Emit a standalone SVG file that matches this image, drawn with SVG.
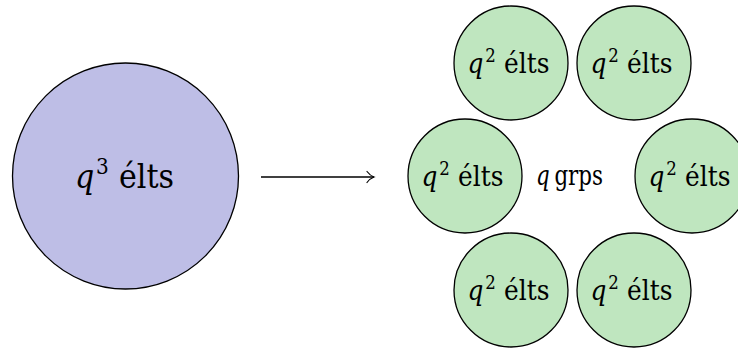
<svg xmlns="http://www.w3.org/2000/svg" width="738" height="351" viewBox="0 0 738 351">
<defs>
<style>
.big{fill:#bebee6;stroke:#000;stroke-width:1.3}
.small{fill:#bfe6bf;stroke:#000;stroke-width:1.3}
.t{font-family:'DejaVu Serif','Liberation Serif',serif;fill:#000}
.q{font-style:italic}
.lb{font-size:33px}
.ls{font-size:27px}
</style>
<marker id="arr" markerWidth="14" markerHeight="14" refX="10" refY="7" orient="auto" markerUnits="userSpaceOnUse">
<path d="M3,1.5 Q6,5.5 10,7 Q6,8.5 3,12.5" fill="none" stroke="#000" stroke-width="1.2" stroke-linecap="round"/>
</marker>
</defs>
<rect width="738" height="351" fill="#fff"/>
<g id="connectors">
<line x1="261" y1="177" x2="374" y2="177" stroke="#000" stroke-width="1.3" marker-end="url(#arr)"/>
</g>
<g id="big-node">
<circle class="big" cx="125.5" cy="176" r="113"/>
<text class="t lb" x="124.5" y="188" text-anchor="middle" textLength="99" lengthAdjust="spacingAndGlyphs"><tspan class="q">q</tspan><tspan font-size="22px" dy="-14" dx="2">3</tspan><tspan dy="14" dx="11">élts</tspan></text>
</g>
<g id="n1">
<circle class="small" cx="511" cy="63" r="57"/>
<text class="t ls" x="508.5" y="73" text-anchor="middle" textLength="82" lengthAdjust="spacingAndGlyphs"><tspan class="q">q</tspan><tspan font-size="18px" dy="-11" dx="2">2</tspan><tspan dy="11" dx="9">élts</tspan></text>
</g>
<g id="n2">
<circle class="small" cx="634" cy="63" r="57"/>
<text class="t ls" x="631.5" y="73" text-anchor="middle" textLength="82" lengthAdjust="spacingAndGlyphs"><tspan class="q">q</tspan><tspan font-size="18px" dy="-11" dx="2">2</tspan><tspan dy="11" dx="9">élts</tspan></text>
</g>
<g id="n3">
<circle class="small" cx="465" cy="176" r="57"/>
<text class="t ls" x="462.5" y="186" text-anchor="middle" textLength="82" lengthAdjust="spacingAndGlyphs"><tspan class="q">q</tspan><tspan font-size="18px" dy="-11" dx="2">2</tspan><tspan dy="11" dx="9">élts</tspan></text>
</g>
<g id="n4">
<circle class="small" cx="692" cy="176" r="57"/>
<text class="t ls" x="689.5" y="186" text-anchor="middle" textLength="82" lengthAdjust="spacingAndGlyphs"><tspan class="q">q</tspan><tspan font-size="18px" dy="-11" dx="2">2</tspan><tspan dy="11" dx="9">élts</tspan></text>
</g>
<g id="n5">
<circle class="small" cx="511" cy="290" r="57"/>
<text class="t ls" x="508.5" y="300" text-anchor="middle" textLength="82" lengthAdjust="spacingAndGlyphs"><tspan class="q">q</tspan><tspan font-size="18px" dy="-11" dx="2">2</tspan><tspan dy="11" dx="9">élts</tspan></text>
</g>
<g id="n6">
<circle class="small" cx="634" cy="290" r="57"/>
<text class="t ls" x="631.5" y="300" text-anchor="middle" textLength="82" lengthAdjust="spacingAndGlyphs"><tspan class="q">q</tspan><tspan font-size="18px" dy="-11" dx="2">2</tspan><tspan dy="11" dx="9">élts</tspan></text>
</g>
<g id="label">
<text class="t" font-size="27px" x="569.5" y="185" text-anchor="middle" textLength="67" lengthAdjust="spacingAndGlyphs"><tspan class="q">q</tspan><tspan dx="6">grps</tspan></text>
</g>
</svg>
